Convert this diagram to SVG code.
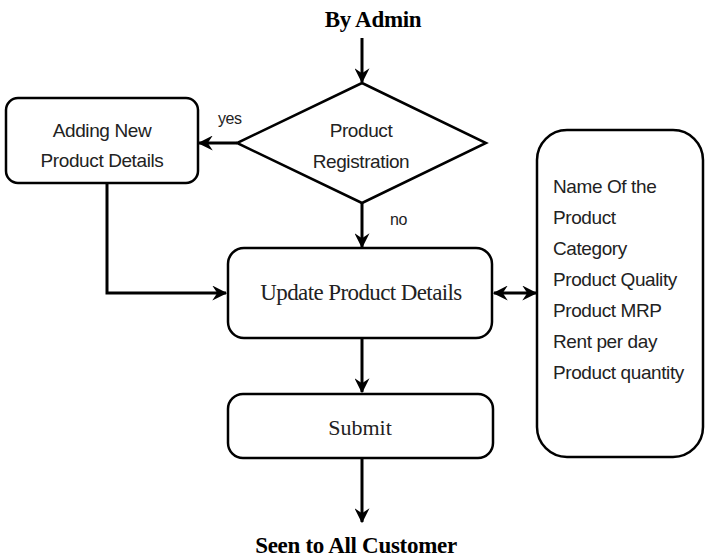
<svg xmlns="http://www.w3.org/2000/svg" width="709" height="558" viewBox="0 0 709 558">
<style>
.box{fill:#fff;stroke:#000;stroke-width:2.5}
.ln{fill:none;stroke:#000;stroke-width:3}
.sans{font-family:"Liberation Sans",Arial,sans-serif;font-size:19px;letter-spacing:-0.4px;fill:#222}
.serif{font-family:"Liberation Serif","Times New Roman",serif;fill:#222}
.bold{font-family:"Liberation Serif","Times New Roman",serif;font-weight:bold;font-size:23px;letter-spacing:-0.3px;fill:#000}
</style>
<defs>
<marker id="ah" viewBox="0 0 12 12" refX="11" refY="6" markerWidth="5" markerHeight="5" markerUnits="strokeWidth" orient="auto-start-reverse">
<path d="M0,0 L12,6 L0,12 L4,6 z" fill="#000"/>
</marker>
</defs>
<rect width="709" height="558" fill="#fff"/>
<text class="bold" x="373" y="27" text-anchor="middle">By Admin</text>
<text class="bold" x="356" y="553" text-anchor="middle">Seen to All Customer</text>
<g id="connectors">
<line class="ln" x1="362" y1="38" x2="362" y2="82" marker-end="url(#ah)"/>
<line class="ln" x1="237" y1="143" x2="199" y2="143" marker-end="url(#ah)"/>
<text class="sans" x="218" y="124" style="font-size:16px">yes</text>
<line class="ln" x1="362" y1="203" x2="362" y2="247" marker-end="url(#ah)"/>
<text class="sans" x="390" y="225" style="font-size:16px">no</text>
<polyline class="ln" points="107,183 107,293 226,293" marker-end="url(#ah)"/>
<line class="ln" x1="494" y1="293" x2="536" y2="293" marker-start="url(#ah)" marker-end="url(#ah)"/>
<line class="ln" x1="362" y1="338" x2="362" y2="392" marker-end="url(#ah)"/>
<line class="ln" x1="362" y1="458" x2="362" y2="522" marker-end="url(#ah)"/>
</g>
<g id="adding">
<rect class="box" x="6" y="98" width="192" height="85" rx="12"/>
<text class="sans" x="102" y="137" text-anchor="middle">Adding New</text>
<text class="sans" x="102" y="167" text-anchor="middle">Product Details</text>
</g>
<g id="registration">
<polygon class="box" points="362,83 486,143 362,203 237,143"/>
<text class="sans" x="361" y="137" text-anchor="middle">Product</text>
<text class="sans" x="361" y="168" text-anchor="middle">Registration</text>
</g>
<g id="update">
<rect class="box" x="228" y="248" width="264" height="90" rx="16"/>
<text class="serif" x="361" y="300" text-anchor="middle" style="font-size:23px;letter-spacing:-0.6px">Update Product Details</text>
</g>
<g id="submit">
<rect class="box" x="228" y="394" width="265" height="64" rx="15"/>
<text class="serif" x="360" y="435" text-anchor="middle" style="font-size:22px">Submit</text>
</g>
<g id="fields">
<rect class="box" x="537" y="130" width="166" height="327" rx="30"/>
<text class="sans" x="553" y="193">Name Of the</text>
<text class="sans" x="553" y="224">Product</text>
<text class="sans" x="553" y="255">Category</text>
<text class="sans" x="553" y="286">Product Quality</text>
<text class="sans" x="553" y="317">Product MRP</text>
<text class="sans" x="553" y="348">Rent per day</text>
<text class="sans" x="553" y="379">Product  quantity</text>
</g>
</svg>
